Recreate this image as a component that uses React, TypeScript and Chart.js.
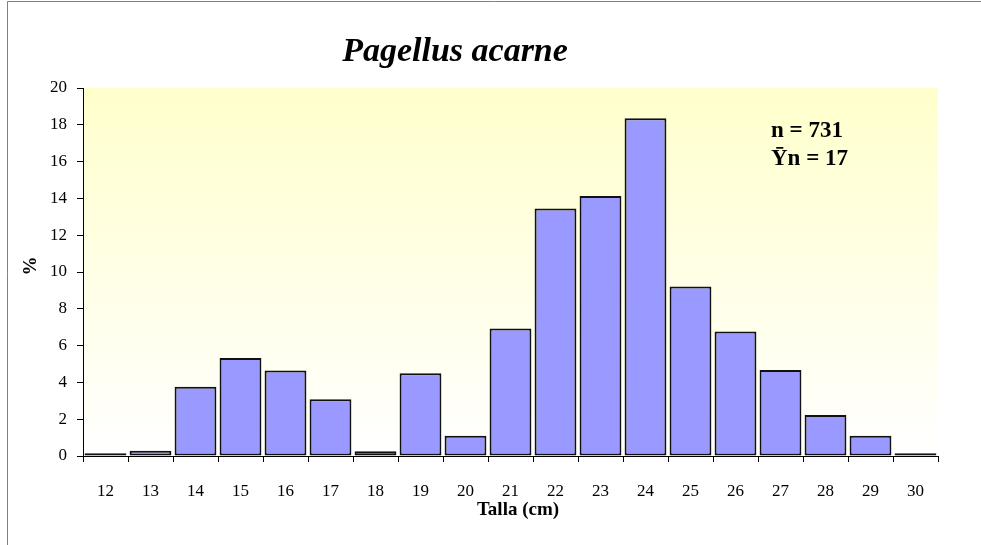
import React, { useEffect, useRef } from "react";
import { Chart, registerables } from "chart.js";

Chart.register(...registerables);

const categories = ["12","13","14","15","16","17","18","19","20","21","22","23","24","25","26","27","28","29","30"];
const percentages = [0.15, 0.28, 3.76, 5.32, 4.64, 3.08, 0.26, 4.5, 1.1, 6.93, 13.45, 14.13, 18.35, 9.21, 6.77, 4.67, 2.23, 1.1, 0.15];
const yTicks = { min: 0, max: 20, step: 2 };
const titleText = "Pagellus acarne";
const xTitle = "Talla (cm)";
const yTitle = "%";
const noteLines = ["n = 731", "\u0232n = 17"];

const SERIF = '"Liberation Serif", "Times New Roman", serif';

const decorPlugin = {
  id: "decor",
  beforeDraw(chart: any) {
    const { ctx, chartArea } = chart;
    const { left, top, right, bottom } = chartArea;
    ctx.save();
    ctx.fillStyle = "#ffffff";
    ctx.fillRect(0, 0, chart.width, chart.height);
    const g = ctx.createLinearGradient(0, top, 0, bottom);
    g.addColorStop(0, "#FFFFCC");
    g.addColorStop(1, "#FFFFFF");
    ctx.fillStyle = g;
    ctx.fillRect(left, top, right - left, bottom - top);
    // outer frame
    ctx.strokeStyle = "#808080";
    ctx.lineWidth = 1;
    ctx.beginPath();
    ctx.moveTo(7.5, chart.height);
    ctx.lineTo(7.5, 1.5);
    ctx.lineTo(chart.width, 1.5);
    ctx.stroke();
    ctx.restore();
  },
  afterDraw(chart: any) {
    const { ctx } = chart;
    ctx.save();
    ctx.fillStyle = "#000";
    ctx.textAlign = "center";
    ctx.textBaseline = "alphabetic";
    ctx.font = `italic bold 34px ${SERIF}`;
    ctx.fillText(titleText, 455, 61);
    ctx.font = `bold 19px ${SERIF}`;
    ctx.fillText(xTitle, 518, 515);
    ctx.save();
    ctx.translate(31, 266);
    ctx.rotate(-Math.PI / 2);
    ctx.textBaseline = "middle";
    ctx.font = `bold 19px ${SERIF}`;
    ctx.fillText(yTitle, 0, 0);
    ctx.restore();
    ctx.textAlign = "left";
    ctx.font = `bold 23px ${SERIF}`;
    ctx.fillText(noteLines[0], 771, 137);
    ctx.fillText(noteLines[1], 771, 165);
    ctx.restore();
  },
};

export default function App() {
  const ref = useRef<HTMLCanvasElement | null>(null);
  useEffect(() => {
    if (!ref.current) return;
    const chart = new Chart(ref.current, {
      type: "bar",
      data: {
        labels: categories,
        datasets: [
          {
            data: percentages,
            backgroundColor: "#9999FF",
            borderColor: "#111111",
            borderWidth: 2,
            borderSkipped: false,
            barPercentage: 0.93,
            categoryPercentage: 1,
          },
        ],
      },
      options: {
        responsive: false,
        animation: false,
        devicePixelRatio: 1,
        layout: { padding: { left: 0, top: 88, right: 43, bottom: 0 } },
        plugins: {
          legend: { display: false },
          tooltip: { enabled: false },
          title: { display: false },
        },
        scales: {
          x: {
            offset: true,
            grid: {
              display: true,
              drawOnChartArea: false,
              drawTicks: true,
              tickLength: 6,
              color: "#000",
              offset: true,
            },
            border: { display: true, color: "#000", width: 1 },
            ticks: {
              color: "#000",
              font: { family: SERIF, size: 17 },
              padding: 19,
              maxRotation: 0,
              autoSkip: false,
            },
            afterFit(scale: any) {
              scale.height = 89;
            },
          },
          y: {
            min: yTicks.min,
            max: yTicks.max,
            grid: {
              display: true,
              drawOnChartArea: false,
              drawTicks: true,
              tickLength: 6,
              color: "#000",
            },
            border: { display: true, color: "#000", width: 1 },
            ticks: {
              stepSize: yTicks.step,
              color: "#000",
              font: { family: SERIF, size: 17 },
              padding: 10,
            },
            afterFit(scale: any) {
              scale.width = 83;
            },
          },
        },
      },
      plugins: [decorPlugin],
    } as any);
    return () => chart.destroy();
  }, []);
  return (
    <div style={{ position: "fixed", left: 0, top: 0, width: 981, height: 545, background: "#fff" }}>
      <canvas ref={ref} width={981} height={545} style={{ display: "block" }} />
    </div>
  );
}
